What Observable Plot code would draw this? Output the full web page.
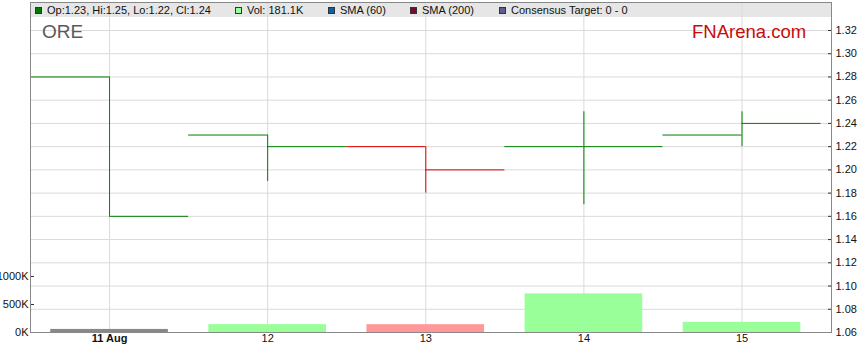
<!DOCTYPE html>
<html>
<head>
<meta charset="utf-8">
<script src="https://cdn.jsdelivr.net/npm/d3@7"></script>
<script src="https://cdn.jsdelivr.net/npm/@observablehq/plot@0.6"></script>
<style>
  html, body { margin: 0; padding: 0; background: #fff; }
  #chart { position: relative; width: 859px; height: 363px; overflow: hidden; font-family: "Liberation Sans", Arial, sans-serif; }
  #chart svg { position: absolute; left: 0; top: 0; }
  .abs { position: absolute; white-space: nowrap; }
  .lgtext { top: 3px; line-height: 14px; font-size: 11px; color: #111; }
  .sq { top: 7px; width: 7px; height: 7px; box-sizing: border-box; border: 1px solid #333; }
</style>
</head>
<body>
<div id="chart">
  <div class="abs" style="left:31px;top:3px;width:800px;height:14px;background:#e6e6e6"></div>
</div>
<script>
// ---- data ----
const days = ["11 Aug", "12", "13", "14", "15"];
const openPx = [1.28, 1.23, 1.22, 1.22, 1.23];
const highPx = [1.28, 1.23, 1.22, 1.25, 1.25];
const lowPx = [1.16, 1.19, 1.18, 1.17, 1.22];
const closePx = [1.16, 1.22, 1.20, 1.22, 1.24];
const volume = [55000, 140000, 140000, 690000, 181100];
const priceTicks = [1.06, 1.08, 1.10, 1.12, 1.14, 1.16, 1.18, 1.20, 1.22, 1.24, 1.26, 1.28, 1.30, 1.32];
const volumeTicks = [0, 500000, 1000000];
const ticker = "ORE";
const brand = "FNArena.com";

const data = days.map((day, i) => ({
  i, day,
  open: openPx[i], high: highPx[i], low: lowPx[i], close: closePx[i],
  volume: volume[i],
  dir: i === 0 ? 0 : Math.sign(closePx[i] - closePx[i - 1])
}));
const priceColor = d => d.dir < 0 ? "#dd0000" : "#008000";
const volColor = d => d.dir === 0 ? "#888888" : d.dir > 0 ? "#99ff99" : "#ff9999";

const common = {
  width: 859, height: 363,
  marginLeft: 30, marginRight: 28, marginTop: 2, marginBottom: 31,
  style: { background: "transparent", fontFamily: "'Liberation Sans', Arial, sans-serif", fontSize: "11px", color: "#111" },
  x: { type: "linear", domain: [-0.5, 4.566], axis: null },
  color: { type: "identity" }
};

const chart = document.getElementById("chart");

// price layer: grid, OHLC, right axis, day labels
const pricePlot = Plot.plot({
  ...common,
  y: { domain: [1.06, 1.3441], axis: null },
  marks: [
    Plot.ruleY(priceTicks, { stroke: "#dadada" }),
    Plot.ruleX(data, { x: "i", stroke: "#dadada" }),
    Plot.ruleX(data, { x: "i", y1: "low", y2: "high", stroke: priceColor }),
    Plot.ruleY(data, { x1: d => d.i - 0.5, x2: "i", y: "open", stroke: priceColor }),
    Plot.ruleY(data, { x1: "i", x2: d => d.i + 0.5, y: "close", stroke: priceColor }),
    Plot.axisY(priceTicks, { anchor: "right", label: null, tickSize: -4, tickPadding: 8, tickFormat: d => d.toFixed(2), stroke: "#333", fill: "#111" }),
    Plot.text(data.slice(0, 1), { x: "i", text: "day", frameAnchor: "bottom", dy: 9, fontWeight: "bold", fill: "#111" }),
    Plot.text(data.slice(1), { x: "i", text: "day", frameAnchor: "bottom", dy: 9, fill: "#111" })
  ]
});
chart.appendChild(pricePlot);

// volume layer: bars, left axis, frame
const volPlot = Plot.plot({
  ...common,
  y: { domain: [0, 5893000], axis: null },
  marks: [
    Plot.rectY(data, { x1: d => d.i - 0.372, x2: d => d.i + 0.372, y1: 0, y2: "volume", fill: volColor }),
    Plot.axisY(volumeTicks, { anchor: "left", label: null, tickSize: -4, tickPadding: 6, tickFormat: d => (d / 1000) + "K", stroke: "#333", fill: "#111" }),
    Plot.frame({ stroke: "#888" })
  ]
});
chart.appendChild(volPlot);

// legend + labels
const last = data[data.length - 1];
const legendItems = [
  { sq: 35, tx: 47, color: "#007a00", text: `Op:${last.open.toFixed(2)}, Hi:${last.high.toFixed(2)}, Lo:${last.low.toFixed(2)}, Cl:${last.close.toFixed(2)}` },
  { sq: 235, tx: 247, color: "#99ff99", text: `Vol: ${(last.volume / 1000).toFixed(1)}K` },
  { sq: 328, tx: 340, color: "#0a62a8", text: "SMA (60)" },
  { sq: 410, tx: 422, color: "#7a0a28", text: "SMA (200)" },
  { sq: 499, tx: 511, color: "#5e5e8e", text: "Consensus Target: 0 - 0" }
];
for (const it of legendItems) {
  const s = document.createElement("div");
  s.className = "abs sq";
  s.style.left = it.sq + "px";
  s.style.background = it.color;
  chart.appendChild(s);
  const t = document.createElement("div");
  t.className = "abs lgtext";
  t.style.left = it.tx + "px";
  t.textContent = it.text;
  chart.appendChild(t);
}
const ore = document.createElement("div");
ore.className = "abs";
ore.style.cssText += "left:42px;top:21px;font-size:19px;line-height:22px;color:#5a5a5a;";
ore.textContent = ticker;
chart.appendChild(ore);
const br = document.createElement("div");
br.className = "abs";
br.style.cssText += "left:692px;top:21px;font-size:18.5px;line-height:21px;color:#cc0a0a;";
br.textContent = brand;
chart.appendChild(br);
</script>
</body>
</html>
